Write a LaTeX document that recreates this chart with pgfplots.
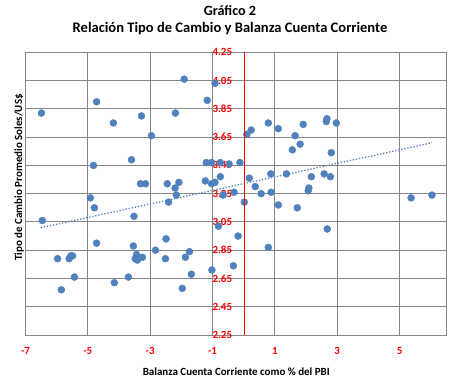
\documentclass[border=0pt]{standalone}
\usepackage{fontspec}
\setmainfont{Carlito}
\usepackage{pgfplots}
\pgfplotsset{compat=1.18}
\usepackage{pgfplotstable}
\definecolor{ptblue}{RGB}{79,129,189}
\definecolor{gridgray}{RGB}{134,134,134}
\definecolor{axred}{RGB}{255,0,0}
\pgfplotstableread{
x y
-6.49 3.82
-1.91 4.06
-0.92 4.03
-4.72 3.90
-1.17 3.91
-3.28 3.80
-2.19 3.82
-4.18 3.75
-2.96 3.66
-3.60 3.49
-4.82 3.45
-1.20 3.47
-1.03 3.47
-0.75 3.47
-0.47 3.46
-0.12 3.47
-3.31 3.32
-3.15 3.32
-2.45 3.32
-2.08 3.33
-2.20 3.29
-1.23 3.34
-1.03 3.32
-0.92 3.33
-0.75 3.37
0.18 3.36
0.37 3.30
0.87 3.39
1.37 3.39
1.56 3.56
1.81 3.60
2.09 3.29
2.07 3.27
0.56 3.25
0.88 3.26
1.11 3.17
1.72 3.15
0.02 3.19
-0.31 3.26
-0.66 3.24
-2.16 3.24
-2.41 3.19
-3.52 3.09
-0.81 3.02
-0.18 2.95
-2.49 2.93
0.79 2.87
-3.54 2.88
-2.83 2.85
-1.74 2.84
-1.87 2.80
-2.51 2.79
-3.44 2.82
-3.25 2.80
-3.48 2.79
-3.41 2.78
-5.97 2.79
-5.60 2.79
-5.54 2.81
-5.49 2.81
-5.43 2.66
-5.85 2.57
-3.70 2.66
-4.15 2.62
-1.68 2.68
-1.97 2.58
-1.02 2.71
-0.33 2.74
-6.46 3.06
-4.92 3.22
-4.79 3.15
-4.72 2.90
0.10 3.67
0.24 3.70
0.79 3.75
1.11 3.71
1.91 3.74
1.65 3.66
2.67 3.78
2.65 3.76
2.97 3.75
2.81 3.54
2.17 3.37
2.58 3.39
2.78 3.37
2.68 3.00
5.37 3.22
6.04 3.24
}\datatable
\begin{document}
\begin{tikzpicture}[x=1bp,y=1bp]
\useasboundingbox (-25.5,-47) rectangle (436.5,335);
\begin{axis}[
  at={(0,0)}, anchor=south west,
  scale only axis, width=420.8bp, height=282.7bp,
  xmin=-7, xmax=6.5, ymin=2.25, ymax=4.25,
  xtick={-7,-5,-3,-1,1,3,5},
  ytick={2.25,2.45,2.65,2.85,3.05,3.25,3.45,3.65,3.85,4.05,4.25},
  grid=major,
  major grid style={draw=gridgray, line width=0.9bp},
  axis line style={draw=gridgray, line width=0.9bp},
  major tick length=0pt,
  /pgf/number format/assume math mode=true,
  tick label style={font=\fontsize{11}{13}\selectfont\bfseries, text=axred, inner sep=0pt},
  yticklabel style={/pgf/number format/.cd, fixed, fixed zerofill, precision=2, /tikz/.cd, anchor=east, xshift=206.8bp},
  xticklabel style={anchor=north, yshift=-11.7bp},
  clip=false,
]
\addplot[only marks, mark=*, mark size=3.5bp, mark options={fill=ptblue, draw=ptblue}] table[x=x, y=y] {\datatable};
\addplot[ptblue, line width=1.3bp, dash pattern=on 1.3bp off 1.8bp] coordinates {(-6.51,3.009) (6.04,3.610)};
\end{axis}
\fill[axred] (218.6,0) rectangle (219.8,282.7);
\node[anchor=base, font=\fontsize{14.2}{17}\selectfont\bfseries] at (204.5,320) {Gráfico 2};
\node[anchor=base, font=\fontsize{14.6}{17}\selectfont\bfseries] at (204.5,303) {Relación Tipo de Cambio y Balanza Cuenta Corriente};
\node[anchor=base, font=\fontsize{11}{13}\selectfont\bfseries] at (210.8,-40) {Balanza Cuenta Corriente como \% del PBI};
\node[anchor=base, rotate=90, font=\fontsize{11}{13}\selectfont\bfseries] at (-3.5,157.5) {Tipo de Cambio Promedio Soles/US\$};
\end{tikzpicture}
\end{document}
